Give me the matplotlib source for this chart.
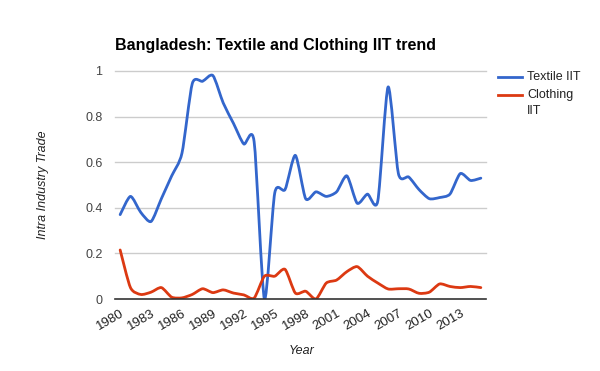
import numpy as np
import matplotlib
matplotlib.use("Agg")
import matplotlib.pyplot as plt
from matplotlib.path import Path
from matplotlib.patches import PathPatch
from matplotlib.lines import Line2D

years = list(range(1980, 2016))
textile_iit = [0.37, 0.45, 0.38, 0.34, 0.44, 0.54, 0.64, 0.945, 0.955, 0.98,
               0.86, 0.77, 0.68, 0.69, 0.0, 0.465, 0.48, 0.63, 0.44, 0.47,
               0.45, 0.47, 0.54, 0.42, 0.46, 0.43, 0.93, 0.55, 0.535, 0.48,
               0.44, 0.445, 0.46, 0.55, 0.52, 0.53]
clothing_iit = [0.215, 0.05, 0.02, 0.03, 0.05, 0.008, 0.005, 0.02, 0.045, 0.028,
                0.04, 0.026, 0.018, 0.004, 0.10, 0.10, 0.13, 0.026, 0.034, 0.0,
                0.07, 0.083, 0.12, 0.142, 0.10, 0.07, 0.044, 0.045, 0.044, 0.025,
                0.03, 0.066, 0.055, 0.05, 0.055, 0.05]
series_names = ["Textile IIT", "Clothing\nIIT"]
series_colors = ["#3366cc", "#dc3912"]
yticks = [0, 0.2, 0.4, 0.6, 0.8, 1.0]
ytick_labels = ["0", "0.2", "0.4", "0.6", "0.8", "1"]
xtick_years = list(range(1980, 2014, 3))

plt.rcParams["font.family"] = ["Liberation Sans", "DejaVu Sans"]


def smooth_path(x, y, k=0.12):
    # cubic bezier through every data point (catmull-rom style control points)
    x = np.asarray(x, float)
    y = np.asarray(y, float)
    n = len(x)
    verts = [(x[0], y[0])]
    codes = [Path.MOVETO]
    for i in range(n - 1):
        p0 = max(i - 1, 0)
        p3 = min(i + 2, n - 1)
        c1 = (x[i] + (x[i + 1] - x[p0]) * k, y[i] + (y[i + 1] - y[p0]) * k)
        c2 = (x[i + 1] - (x[p3] - x[i]) * k, y[i + 1] - (y[p3] - y[i]) * k)
        verts += [c1, c2, (x[i + 1], y[i + 1])]
        codes += [Path.CURVE4] * 3
    return Path(verts, codes)


fig = plt.figure(figsize=(6.0, 3.71), dpi=100)
ax = fig.add_axes([115 / 600, 1 - 299 / 371, 371 / 600, 228 / 371])

xs = np.arange(len(years))
for vals, col in zip([textile_iit, clothing_iit], series_colors):
    ax.add_patch(PathPatch(smooth_path(xs, vals), fill=False, edgecolor=col,
                           linewidth=2, capstyle="round", joinstyle="round", zorder=3))

ax.set_xlim(-0.5, len(years) - 0.5)
ax.set_ylim(0, 1.0)
ax.set_yticks(yticks)
ax.set_yticklabels(ytick_labels)
for t in yticks[1:]:
    ax.axhline(t, color="#cccccc", linewidth=1, zorder=1, clip_on=False)
ax.axhline(0, color="#333333", linewidth=1.2, zorder=4, clip_on=False)

ax.set_xticks([years.index(y) for y in xtick_years])
ax.set_xticklabels([str(y) for y in xtick_years], rotation=30, ha="right",
                   rotation_mode="anchor", fontsize=9.5, color="#222222")
ax.tick_params(axis="both", length=0)
ax.tick_params(axis="x", pad=6)
ax.tick_params(axis="y", labelsize=9, labelcolor="#444444", pad=9)
for s in ax.spines.values():
    s.set_visible(False)

fig.text(115 / 600, 1 - 50 / 371, "Bangladesh: Textile and Clothing IIT trend",
         fontsize=11.5, fontweight="bold", color="#000000", ha="left", va="baseline")
fig.text(43 / 600, 1 - 185 / 371, "Intra Industry Trade", rotation=90, style="italic",
         fontsize=9, color="#222222", ha="center", va="center")
fig.text(302 / 600, 1 - 351 / 371, "Year", style="italic", fontsize=9,
         color="#222222", ha="center", va="center")

# legend on the right
leg_y = [76.5, 95]
for name, col, yy in zip(series_names, series_colors, leg_y):
    fig.add_artist(Line2D([498 / 600, 522 / 600], [1 - yy / 371] * 2, color=col, linewidth=2))
    fig.text(527 / 600, 1 - (yy - 6) / 371, name, fontsize=9, color="#222222",
             ha="left", va="top", linespacing=1.45)

fig.savefig("out.png", dpi=100)
